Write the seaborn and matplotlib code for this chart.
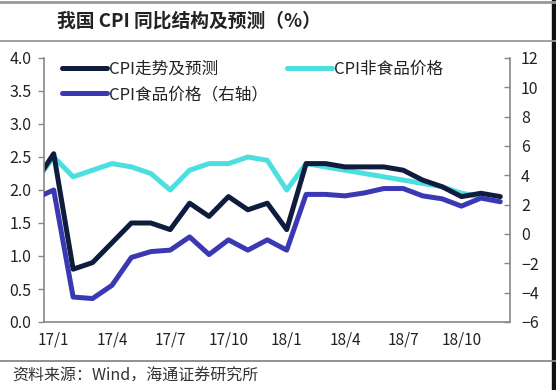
import matplotlib
matplotlib.use("Agg")
import matplotlib.pyplot as plt
import matplotlib.ticker as ticker
from matplotlib.lines import Line2D
from matplotlib.patches import Rectangle
import pandas as pd
import seaborn as sns

# month index: -1 = 16/12, 0 = 17/1 ... 23 = 18/12
months = list(range(-1, 24))

cpi = [2.1, 2.55, 0.8, 0.9, 1.2, 1.5, 1.5, 1.4, 1.8, 1.6, 1.9, 1.7, 1.8,
       1.4, 2.4, 2.4, 2.35, 2.35, 2.35, 2.3, 2.15, 2.05, 1.9, 1.95, 1.9]

nonfood = [2.1, 2.5, 2.2, 2.3, 2.4, 2.35, 2.25, 2.0, 2.3, 2.4, 2.4, 2.5, 2.45,
           2.0, 2.4, 2.35, 2.3, 2.25, 2.2, 2.15, 2.1, 2.05, 1.95, 1.9]

food = [2.4, 3.0, -4.3, -4.4, -3.5, -1.6, -1.2, -1.1, -0.2, -1.4, -0.4, -1.1, -0.4,
        -1.1, 2.7, 2.7, 2.6, 2.8, 3.1, 3.1, 2.6, 2.4, 1.9, 2.45, 2.2]

tick_pos = [0, 3, 6, 9, 12, 15, 18, 21]
tick_labels = ["17/1", "17/4", "17/7", "17/10", "18/1", "18/4", "18/7", "18/10"]

label_cpi = "CPI走势及预测"
label_nonfood = "CPI非食品价格"
label_food = "CPI食品价格（右轴）"

c_cpi = "#101c3e"
c_nonfood = "#4ddfe0"
c_food = "#3b38b4"

df_cpi = pd.DataFrame({"m": months, "v": cpi})
df_nonfood = pd.DataFrame({"m": months[:len(nonfood)], "v": nonfood})
df_food = pd.DataFrame({"m": months, "v": food})

sns.set_style("white")
plt.rcParams["font.family"] = ["Noto Sans CJK SC", "DejaVu Sans"]

fig = plt.figure(figsize=(5.56, 3.90), dpi=100)
W, H = 556, 390
left, right, top, bottom = 44, 510, 58, 322
ax = fig.add_axes([left / W, 1 - bottom / H, (right - left) / W, (bottom - top) / H])
ax2 = ax.twinx()

lw = 3.6
sns.lineplot(data=df_nonfood, x="m", y="v", ax=ax, color=c_nonfood, lw=lw,
             solid_joinstyle="round", solid_capstyle="round", legend=False)
sns.lineplot(data=df_cpi, x="m", y="v", ax=ax, color=c_cpi, lw=lw,
             solid_joinstyle="round", solid_capstyle="round", legend=False)
sns.lineplot(data=df_food, x="m", y="v", ax=ax2, color=c_food, lw=lw,
             solid_joinstyle="round", solid_capstyle="round", legend=False)

ax.set_xlim(-0.5, 23.5)
ax.set_ylim(0, 4)
ax2.set_ylim(-6, 12)
ax.yaxis.set_major_locator(ticker.MultipleLocator(0.5))
ax.yaxis.set_major_formatter(ticker.FormatStrFormatter("%.1f"))
ax2.yaxis.set_major_locator(ticker.MultipleLocator(2))

# tick marks between months, labels on the month itself
ax.set_xticks([p - 0.5 for p in tick_pos] + [23.5])
ax.set_xticklabels([])
ax.set_xticks(tick_pos, minor=True)
ax.set_xticklabels(tick_labels, minor=True)
ax.tick_params(axis="x", which="minor", length=0, pad=7, labelsize=11, colors="#222222")
ax.tick_params(axis="x", which="major", length=4, width=1, color="#888888", direction="out")
ax.tick_params(axis="y", length=4, width=1, color="#888888", direction="out",
               labelsize=11.5, labelcolor="#222222", pad=5)
ax2.tick_params(axis="y", length=4, width=1, color="#888888", direction="in",
                labelsize=11.5, labelcolor="#222222", pad=8)

ax.set_xlabel("")
ax.set_ylabel("")
ax2.set_ylabel("")

for a in (ax, ax2):
    for s in a.spines.values():
        s.set_visible(False)
ax.spines["left"].set_visible(True)
ax.spines["bottom"].set_visible(True)
ax2.spines["right"].set_visible(True)
for s in (ax.spines["left"], ax.spines["bottom"], ax2.spines["right"]):
    s.set_color("#888888")
    s.set_linewidth(1.2)

handles = [
    Line2D([], [], color=c_cpi, lw=lw),
    Line2D([], [], color=c_food, lw=lw),
    Line2D([], [], color=c_nonfood, lw=lw),
]
leg = ax2.legend(handles, [label_cpi, label_food, label_nonfood], ncol=2,
                 loc="upper left", bbox_to_anchor=(0.025, 1.015), frameon=False,
                 fontsize=12, handlelength=2.7, handletextpad=0.1,
                 columnspacing=1.15, labelspacing=0.5, borderaxespad=0)
for t in leg.get_texts():
    t.set_color("#222222")

# header / footer decoration
fig.add_artist(Line2D([0, 1], [1 - 2 / H, 1 - 2 / H], color="#999999", lw=2))
fig.add_artist(Line2D([0, 1], [1 - 41 / H, 1 - 41 / H], color="#999999", lw=1.3))
fig.add_artist(Line2D([0, 1], [1 - 361 / H, 1 - 361 / H], color="#888888", lw=1.3))
fig.add_artist(Rectangle((552 / W, 0), 4 / W, 1, color="#111111", transform=fig.transFigure))

fig.text(57 / W, 1 - 21 / H, "我国 CPI 同比结构及预测（%）", fontsize=13.5,
         fontweight="bold", va="center", ha="left", color="#222222")
fig.text(12 / W, 1 - 376 / H, "资料来源：Wind，海通证券研究所", fontsize=11.5,
         va="center", ha="left", color="#333333")

fig.savefig("out.png", dpi=100)
